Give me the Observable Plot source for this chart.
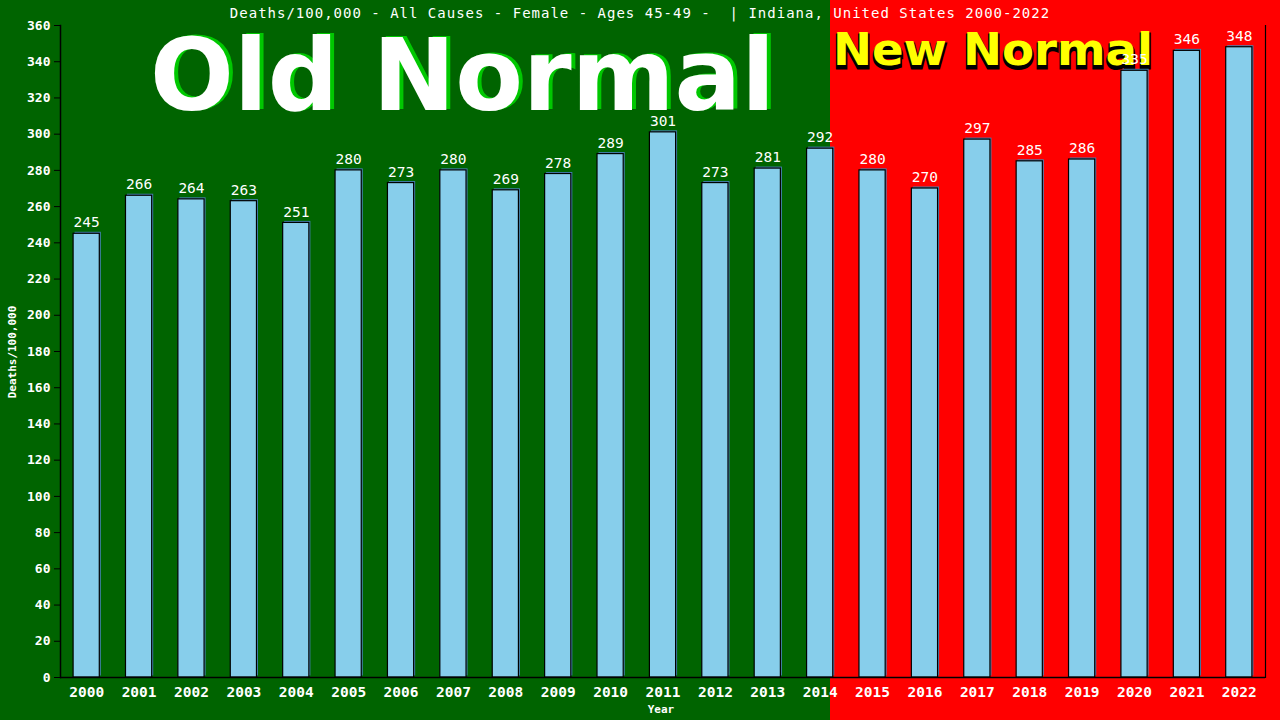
<!DOCTYPE html>
<html>
<head>
<meta charset="utf-8">
<script src="https://cdn.jsdelivr.net/npm/d3@7"></script>
<script src="https://cdn.jsdelivr.net/npm/@observablehq/plot@0.6"></script>
<style>
  html, body { margin: 0; padding: 0; }
  body { width: 1280px; height: 720px; overflow: hidden;
         background: linear-gradient(to right, #006400 0px, #006400 830px, #ff0000 830px, #ff0000 1280px); }
  #wrap { position: relative; width: 1280px; height: 720px; }
  #wrap svg { position: absolute; left: 0; top: 0; }
</style>
</head>
<body>
<div id="wrap"></div>
<script>
const years = ["2000","2001","2002","2003","2004","2005","2006","2007","2008","2009","2010","2011","2012","2013","2014","2015","2016","2017","2018","2019","2020","2021","2022"];
const deaths = [245,266,264,263,251,280,273,280,269,278,289,301,273,281,292,280,270,297,285,286,335,346,348];
const yTicks = d3.range(0, 361, 20);
const title = "Deaths/100,000 - All Causes - Female - Ages 45-49 -  | Indiana, United States 2000-2022";
const yLabel = "Deaths/100,000";
const xLabel = "Year";
const oldLabel = "Old Normal";
const newLabel = "New Normal";

const data = years.map((y, i) => ({year: y, value: deaths[i]}));
const mono = "'DejaVu Sans Mono', monospace";
const sans = "'DejaVu Sans', sans-serif";

// overlay text drawn first (behind the chart)
const ns = "http://www.w3.org/2000/svg";
const ov = d3.select("#wrap").append("svg")
  .attr("xmlns", ns).attr("width", 1280).attr("height", 720);

ov.append("text").attr("x", 640).attr("y", 18).attr("text-anchor", "middle")
  .attr("fill", "white").style("font-family", mono).style("font-size", "14px")
  .style("letter-spacing", "1px").style("white-space", "pre").text(title);

ov.append("text").attr("transform", "translate(16,352) rotate(-90)").attr("text-anchor", "middle")
  .attr("fill", "white").style("font-family", mono).style("font-size", "11px").style("font-weight", "bold")
  .text(yLabel);

ov.append("text").attr("x", 661).attr("y", 713).attr("text-anchor", "middle")
  .attr("fill", "white").style("font-family", mono).style("font-size", "11px").style("font-weight", "bold")
  .text(xLabel);

// Old Normal: green shadow then white
ov.append("text").attr("x", 154).attr("y", 109).attr("textLength", 625).attr("lengthAdjust", "spacingAndGlyphs")
  .attr("fill", "#00c800").style("font-family", sans).style("font-weight", "bold").style("font-size", "100px")
  .text(oldLabel);
ov.append("text").attr("x", 150).attr("y", 110).attr("textLength", 625).attr("lengthAdjust", "spacingAndGlyphs")
  .attr("fill", "white").style("font-family", sans).style("font-weight", "bold").style("font-size", "100px")
  .text(oldLabel);

// New Normal: black shadow then yellow
ov.append("text").attr("x", 833).attr("y", 68).attr("textLength", 320).attr("lengthAdjust", "spacingAndGlyphs")
  .attr("fill", "black").attr("stroke", "black").attr("stroke-width", 3)
  .style("font-family", sans).style("font-weight", "bold").style("font-size", "45px")
  .text(newLabel);
ov.append("text").attr("x", 833).attr("y", 65).attr("textLength", 320).attr("lengthAdjust", "spacingAndGlyphs")
  .attr("fill", "#ffff00").style("font-family", sans).style("font-weight", "bold").style("font-size", "45px")
  .text(newLabel);

const chart = Plot.plot({
  width: 1280,
  height: 720,
  marginTop: 25,
  marginBottom: 43,
  marginLeft: 60,
  marginRight: 15,
  style: {background: "transparent", color: "white", fontFamily: mono},
  x: {domain: years, paddingInner: 0.5, paddingOuter: 0.25, round: false, label: null},
  y: {domain: [0, 360], label: null},
  marks: [
    Plot.barY(data, {x: "year", y: "value", fill: "#4682b4", dx: 1.5, dy: -1.5}),
    Plot.barY(data, {x: "year", y: "value", fill: "#87ceeb", stroke: "black", strokeWidth: 1.2}),
    Plot.text(data, {x: "year", y: "value", text: d => String(d.value), dy: -11, fill: "white",
      fontSize: 14.5, fontFamily: mono}),
    Plot.axisY({ticks: yTicks, tickSize: 6, tickPadding: 4, stroke: "black", fill: "white",
      fontSize: 13, fontWeight: "bold", fontFamily: mono, label: null, tickFormat: d => String(d)}),
    Plot.axisX({tickSize: 0, tickPadding: 9, fill: "white", fontSize: 14.5, fontWeight: "bold",
      fontFamily: mono, label: null}),
    Plot.ruleY([0], {stroke: "black", strokeWidth: 1.5}),
    Plot.frame({anchor: "left", stroke: "black", strokeWidth: 1.5}),
    Plot.frame({anchor: "right", stroke: "black", strokeWidth: 1.2})
  ]
});
document.getElementById("wrap").appendChild(chart);
</script>
</body>
</html>
